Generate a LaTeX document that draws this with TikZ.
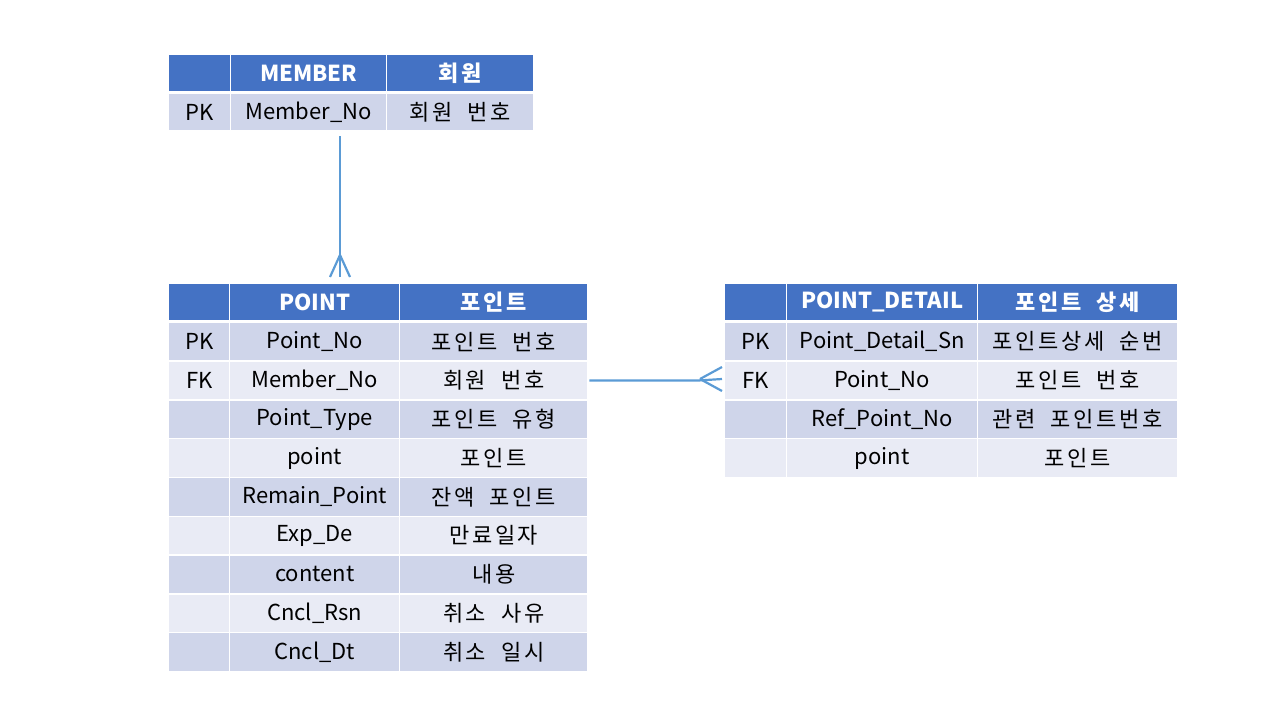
\documentclass[tikz,border=0pt]{standalone}
\usepackage{fontspec}
\setmainfont{Noto Sans CJK KR}
\newfontfamily\korfont[LetterSpace=12,WordSpace=2]{Noto Sans CJK KR}
\usetikzlibrary{positioning}
\definecolor{hdrblue}{HTML}{4472C4}
\definecolor{rowdark}{HTML}{CFD5EA}
\definecolor{rowlight}{HTML}{E9EBF5}
\definecolor{relblue}{HTML}{5B9BD5}
\tikzset{
  cell/.style={draw=white, line width=1.4pt, inner sep=0pt, anchor=north west,
    minimum height=38.8pt, font=\fontsize{22}{26}\selectfont},
  hdr/.style={cell, fill=hdrblue, text=white, minimum height=37pt,
    font=\fontsize{22}{26}\selectfont\bfseries},
  dk/.style={cell, fill=rowdark},
  lt/.style={cell, fill=rowlight},
  rel/.style={draw=relblue, line width=2.2pt}
}

\begin{document}
\begin{tikzpicture}[x=1pt,y=-1pt]
  \useasboundingbox (0,0) rectangle (1280,720);

  % MEMBER
  \node[hdr, minimum width=62pt] (mb-hk) at (168,54) {};
  \node[hdr, minimum width=156pt] (mb-hc) at (230,54) {MEMBER};
  \node[hdr, minimum width=147pt] (mb-hn) at (386,54) {\korfont 회원};
  \node[dk, minimum width=62pt, minimum height=37pt] (mb-k) at (168,93) {PK};
  \node[dk, minimum width=156pt, minimum height=37pt] (mb-c) at (230,93) {Member\_No};
  \node[dk, minimum width=147pt, minimum height=37pt] (mb-n) at (386,93) {\korfont 회원 번호};

  % POINT
  \node[hdr, minimum width=61pt] (pt-hk) at (168,283) {};
  \node[hdr, minimum width=170pt] (pt-hc) at (229,283) {POINT};
  \node[hdr, minimum width=188pt] (pt-hn) at (399,283) {\korfont 포인트};
  \foreach \st/\key/\col/\kn [count=\i] in {
      dk/PK/Point\_No/포인트 번호,
      lt/FK/Member\_No/회원 번호,
      dk//Point\_Type/포인트 유형,
      lt//point/포인트,
      dk//Remain\_Point/잔액 포인트,
      lt//Exp\_De/만료일자,
      dk//content/내용,
      lt//Cncl\_Rsn/취소 사유,
      dk//Cncl\_Dt/취소 일시}{
    \node[\st, minimum width=61pt] (pt-k-\i) at (168,{321.5+38.8*(\i-1)}) {\key};
    \node[\st, minimum width=170pt] (pt-c-\i) at (229,{321.5+38.8*(\i-1)}) {\col};
    \node[\st, minimum width=188pt] (pt-n-\i) at (399,{321.5+38.8*(\i-1)}) {\korfont\kn};
  }

  % POINT_DETAIL
  \node[hdr, minimum width=62pt] (pd-hk) at (724,283) {};
  \node[hdr, minimum width=191pt] (pd-hc) at (786,283) {POINT\_DETAIL};
  \node[hdr, minimum width=200pt] (pd-hn) at (977,283) {\korfont 포인트 상세};
  \foreach \st/\key/\col/\kn [count=\i] in {
      dk/PK/Point\_Detail\_Sn/포인트상세 순번,
      lt/FK/Point\_No/포인트 번호,
      dk//Ref\_Point\_No/관련 포인트번호,
      lt//point/포인트}{
    \node[\st, minimum width=62pt] (pd-k-\i) at (724,{321.5+38.8*(\i-1)}) {\key};
    \node[\st, minimum width=191pt] (pd-c-\i) at (786,{321.5+38.8*(\i-1)}) {\col};
    \node[\st, minimum width=200pt] (pd-n-\i) at (977,{321.5+38.8*(\i-1)}) {\korfont\kn};
  }

  % relations
  \coordinate (mb-tip) at (340,277);
  \coordinate (mb-fork) at (340,255);
  \draw[rel] ([yshift=-5pt]mb-c.south -| mb-tip) -- (mb-tip);
  \draw[rel] (mb-fork) -- (330,277);
  \draw[rel] (mb-fork) -- (350,277);

  \coordinate (pd-tip) at (722,379);
  \coordinate (pd-fork) at (700,379);
  \draw[rel] ([xshift=1pt]pt-n-2.east) -- (pt-n-2.east -| pd-fork) -- (pd-tip);
  \draw[rel] (pd-fork) -- (722,367);
  \draw[rel] (pd-fork) -- (722,391);
\end{tikzpicture}
\end{document}
